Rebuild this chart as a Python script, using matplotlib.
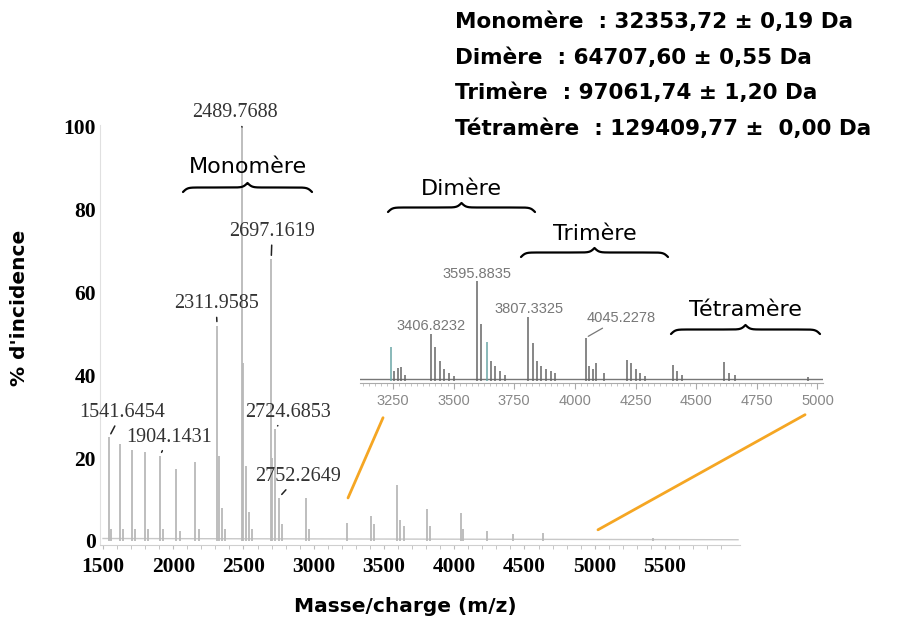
import numpy as np
import matplotlib.pyplot as plt
from matplotlib.patches import ConnectionPatch

W, H = 908, 623

# full spectrum: m/z and relative intensity (%)
main_mz = [1541.6454, 1560, 1618.7, 1640, 1703.9, 1725, 1798.4, 1820,
           1904.1431, 1930, 2023.1, 2050, 2157.9, 2185,
           2311.9585, 2325, 2345, 2370,
           2489.7688, 2497, 2520, 2540, 2560,
           2697.1619, 2706, 2724.6853, 2752.2649, 2775,
           2942.2, 2965, 3236.4, 3406.7, 3430, 3595.9, 3614, 3640,
           3807.3, 3827, 4045.2, 4060, 4230, 4418, 4630, 5415]
main_int = [25, 3, 23.5, 3, 22, 3, 21.5, 3,
            20.5, 3, 17.5, 2.5, 19, 3,
            52, 20.5, 8, 3,
            100, 43, 18, 7, 3,
            68, 20, 27, 10.5, 4,
            10.5, 3, 4.3, 6, 4, 13.5, 5, 3.5,
            7.8, 3.5, 6.8, 3, 2.3, 1.6, 2, 0.8]
main_base_mz = [1500, 6020]
main_base_int = [0.6, 0.3]

main_labels = [1541.6454, 1904.1431, 2311.9585, 2489.7688,
               2697.1619, 2724.6853, 2752.2649]
main_label_off = [(13, 25), (9, 19), (-1, 22), (-7, 14),
                  (1, 28), (13, 17), (19, 21)]

# zoom on 3100-5000
ins_mz = [3240, 3255, 3270, 3285, 3300,
          3406.8232, 3425, 3445, 3460, 3480, 3500,
          3595.8835, 3614, 3636, 3655, 3670, 3690, 3710,
          3807.3325, 3827, 3843, 3862, 3880, 3900, 3920,
          4045.2278, 4060, 4075, 4087, 4120,
          4215, 4232, 4250, 4270, 4290,
          4405, 4420, 4440, 4614, 4635, 4660, 4960]
ins_int = [34, 10, 13, 14, 6,
           47, 34, 20, 12, 8, 5,
           100, 57, 39, 20, 15, 10, 6,
           64, 38, 20, 15, 12, 10, 8,
           43, 15, 12, 18, 8,
           21, 18, 12, 8, 5,
           16, 10, 6, 19, 8, 6, 4]
ins_teal = [3240, 3636]
ins_labels = [3406.8232, 3595.8835, 3807.3325, 4045.2278]
ins_label_off = [(0, 8), (0, 7), (1, 8), (35, 20)]

masses = ["Monomère  : 32353,72 ± 0,19 Da",
          "Dimère  : 64707,60 ± 0,55 Da",
          "Trimère  : 97061,74 ± 1,20 Da",
          "Tétramère  : 129409,77 ±  0,00 Da"]

serif = "Liberation Serif"
sans = "DejaVu Sans"

fig = plt.figure(figsize=(W / 100, H / 100), dpi=100)

# main spectrum
ax = fig.add_axes([100 / W, 1 - 545 / H, 640 / W, 420 / H])
ax.set_xlim(1478.6, 6034)
ax.set_ylim(-0.97, 100.48)
ax.plot(main_base_mz, main_base_int, color="#c8c8c8", lw=1)
ax.vlines(main_mz, 0, main_int, colors="#b9b9b9", lw=1.3)
for sp in ["top", "right"]:
    ax.spines[sp].set_visible(False)
ax.spines["left"].set_color("#e0e0e0")
ax.spines["bottom"].set_color("#cfcfcf")
ax.set_xticks(range(1500, 6000, 500))
ax.set_xticks(range(1500, 6000, 100), minor=True)
ax.set_yticks(range(0, 101, 20))
ax.tick_params(axis="x", which="both", colors="#bbbbbb", length=3,
               labelcolor="black", pad=6)
ax.tick_params(axis="y", length=0, pad=3)
for t in ax.get_xticklabels() + ax.get_yticklabels():
    t.set_fontfamily(serif)
    t.set_fontweight("bold")
    t.set_fontsize(15.5)

for mz, (dx, dy) in zip(main_labels, main_label_off):
    h = main_int[main_mz.index(mz)]
    ax.annotate(f"{mz:.4f}", xy=(mz, h), xytext=(dx * 0.72, dy * 0.72),
                textcoords="offset points", ha="center", va="center",
                family=serif, fontsize=14.5, color="#333333",
                arrowprops=dict(arrowstyle="-", color="#222222", lw=1.1,
                                shrinkA=1, shrinkB=3))

# inset
ax_in = fig.add_axes([360 / W, 1 - 383 / H, 463 / W, 113 / H])
ax_in.set_facecolor("none")
ax_in.set_xlim(3114, 5023)
ax_in.set_ylim(-2.3, 110.7)
ax_in.plot([3114, 5023], [2, 2], color="#777777", lw=1)
cols = ["#6aa6a6" if m in ins_teal else "#666666" for m in ins_mz]
ax_in.vlines(ins_mz, 0, ins_int, colors=cols, lw=1.1)
for sp in ["top", "right", "left"]:
    ax_in.spines[sp].set_visible(False)
ax_in.spines["bottom"].set_color("#aaaaaa")
ax_in.set_yticks([])
ax_in.set_xticks(range(3250, 5001, 250))
ax_in.set_xticks(range(3125, 5025, 25), minor=True)
ax_in.tick_params(axis="x", which="major", length=4, colors="#aaaaaa",
                  labelcolor="#888888", labelsize=10.5, pad=4)
ax_in.tick_params(axis="x", which="minor", length=2.5, colors="#bbbbbb")
for t in ax_in.get_xticklabels():
    t.set_fontfamily("Liberation Sans")

for mz, (dx, dy) in zip(ins_labels, ins_label_off):
    h = ins_int[ins_mz.index(mz)]
    arrow = None
    if dx > 10:
        arrow = dict(arrowstyle="-", color="#777777", lw=0.9,
                     shrinkA=1, shrinkB=2)
    ax_in.annotate(f"{mz:.4f}", xy=(mz, h), xytext=(dx * 0.72, dy * 0.72),
                   textcoords="offset points", ha="center", va="center",
                   family="Liberation Sans", fontsize=10.5, color="#777777",
                   arrowprops=arrow)

# orange zoom guides
for (mx, my), (ix, iy) in [((3244, 10.4), (3209, -37)),
                           ((5023, 2.7), (4949, -34))]:
    con = ConnectionPatch(xyA=(mx, my), coordsA=ax.transData,
                          xyB=(ix, iy), coordsB=ax_in.transData,
                          color="#f5a623", lw=2)
    fig.add_artist(con)

# pixel overlay for braces and free text
ov = fig.add_axes([0, 0, 1, 1])
ov.set_xlim(0, W)
ov.set_ylim(H, 0)
ov.set_axis_off()
ov.patch.set_visible(False)


def brace(x0, x1, y, h, beta=0.45):
    n = 401
    xs = np.linspace(x0, x1, n)
    half = xs[: n // 2 + 1]
    yh = (1 / (1 + np.exp(-beta * (half - half[0])))
          + 1 / (1 + np.exp(-beta * (half - half[-1]))))
    yy = np.concatenate((yh, yh[-2::-1]))
    ov.plot(xs, y - h * (yy - 0.5), color="black", lw=1.6,
            solid_capstyle="round")


groups = [("Monomère", 183, 312, 192, 167),
          ("Dimère", 388, 535, 212, 189),
          ("Trimère", 521, 668, 257, 234),
          ("Tétramère", 671, 820, 334, 310)]
for name, x0, x1, yb, yt in groups:
    brace(x0, x1, yb, 9)
    ov.text((x0 + x1) / 2, yt, name, ha="center", va="center",
            family=sans, fontsize=16)

for i, s in enumerate(masses):
    ov.text(455, 22 + i * 35.5, s, ha="left", va="center", family=sans,
            fontsize=15.5, fontweight="bold")

ov.text(20, 308, "% d'incidence", rotation=90, ha="center", va="center",
        family=sans, fontsize=14.5, fontweight="bold")
ov.text(405, 606, "Masse/charge (m/z)", ha="center", va="center",
        family=sans, fontsize=14.5, fontweight="bold")

fig.savefig("out.png", dpi=100, facecolor="white")
